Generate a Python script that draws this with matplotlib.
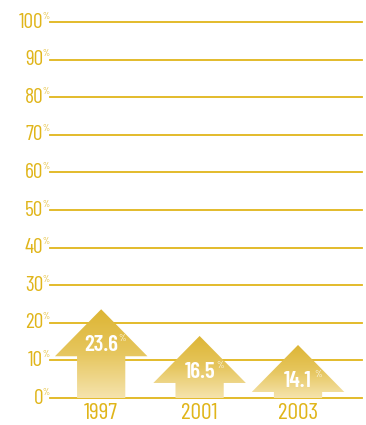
import numpy as np
import matplotlib.pyplot as plt
from matplotlib import font_manager as fm
from matplotlib.colors import LinearSegmentedColormap
from matplotlib.patches import Polygon

years = ['1997', '2001', '2003']
values = [23.6, 16.5, 14.1]
labels = ['23.6', '16.5', '14.1']
ticks = list(range(0, 101, 10))

gold = '#E0B51A'
installed = {f.name for f in fm.fontManager.ttflist}
if 'Barlow Condensed' in installed:
    fnt = {'family': 'Barlow Condensed'}
else:
    fnt = {'family': 'DejaVu Sans', 'stretch': 'condensed'}

fig = plt.figure(figsize=(3.66, 4.25), dpi=100)
ax = fig.add_axes([50 / 366, 1 - 398 / 425, 312 / 366, 376 / 425])
ax.set_xlim(-0.52, 2.65)
ax.set_ylim(0, 100)
ax.axis('off')

# lignes horizontales + étiquettes
for t in ticks:
    ax.axhline(t, color=gold, lw=1.3, zorder=1, clip_on=False)
    ax.annotate(str(t), xy=(0, t), xycoords=('axes fraction', 'data'),
                xytext=(-5, 0), textcoords='offset points',
                ha='right', va='center', fontsize=15.5, color=gold, **fnt)
    ax.annotate('%', xy=(0, t), xycoords=('axes fraction', 'data'),
                xytext=(-0.3, 1), textcoords='offset points',
                ha='right', va='bottom', fontsize=6.5, color=gold, **fnt)

cmap = LinearSegmentedColormap.from_list('g', ['#DDB534', '#E6C65E', '#F5E3AC'])
head_h = 12.5
head_w = 0.47
shaft_w = 0.245
for i, v in enumerate(values):
    base = v - head_h
    pts = [(i - shaft_w, 0), (i - shaft_w, base), (i - head_w, base), (i, v),
           (i + head_w, base), (i + shaft_w, base), (i + shaft_w, 0)]
    poly = Polygon(pts, closed=True, facecolor='none', edgecolor='none', zorder=2)
    ax.add_patch(poly)
    grad = np.linspace(0, 1, 100).reshape(-1, 1)
    im = ax.imshow(grad, cmap=cmap, aspect='auto', origin='upper',
                   extent=(i - head_w, i + head_w, 0, v), zorder=2)
    im.set_clip_path(poly)
    ax.text(i, v - 9.6, labels[i], ha='center', va='center', color='white',
            fontsize=16.5, fontweight='semibold', zorder=3, **fnt)
    ax.annotate('%', xy=(i, v - 9.6), xytext=(12, 1.5), textcoords='offset points',
                ha='left', va='bottom', color='white', fontsize=7, zorder=3, **fnt)
    ax.annotate(years[i], xy=(i, 0), xytext=(0, -15.3), textcoords='offset points',
                ha='center', va='baseline', fontsize=17, color=gold, **fnt)

fig.savefig('out.png', dpi=100)
